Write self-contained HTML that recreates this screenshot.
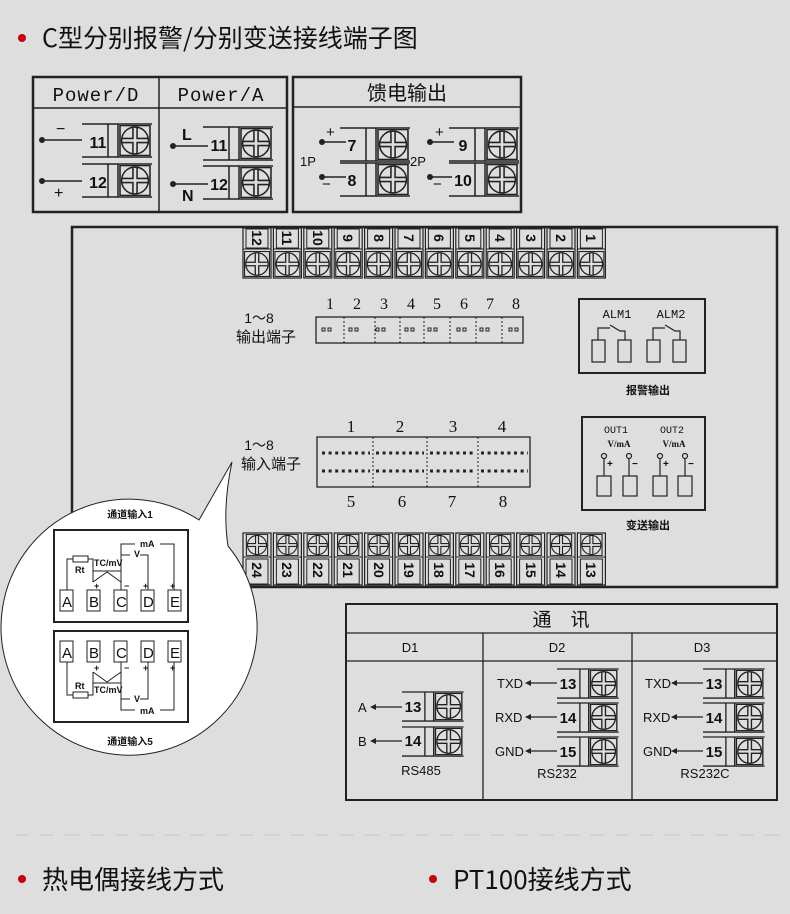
<!DOCTYPE html>
<html><head><meta charset="utf-8"><style>
body{margin:0;background:#dedede;}
svg{display:block}
text{font-family:"Liberation Sans","Noto Sans CJK SC",sans-serif;fill:#111}
.s{font-family:"Liberation Serif","Noto Serif CJK SC",serif}
.m{font-family:"Liberation Mono","Noto Sans CJK SC",monospace}
.h{font-family:"Noto Sans CJK SC",sans-serif}
</style></head><body>
<svg width="790" height="914" viewBox="0 0 790 914" xmlns="http://www.w3.org/2000/svg">
<defs>
<symbol id="sc" viewBox="0 0 30 30">
<rect x="0.5" y="0.5" width="29" height="29" fill="none" stroke="#222" stroke-width="1.5"/>
<circle cx="15" cy="15" r="13" fill="none" stroke="#222" stroke-width="1.5"/>
<path d="M13 2V13H2M17 2V13H28M13 28V17H2M17 28V17H28" fill="none" stroke="#222" stroke-width="1.5"/>
</symbol>
<g id="tb"><path d="M0 0H70M0 33H70M26 0V33M36 0V33" stroke="#222" stroke-width="1.5" fill="none"/><use href="#sc" x="37" y="1" width="32" height="31"/></g>
<g id="tt"><rect x="0" y="0" width="28" height="50" fill="none" stroke="#222" stroke-width="1.2"/><line x1="0" y1="21" x2="28" y2="21" stroke="#222"/><rect x="3" y="1" width="22" height="19" fill="none" stroke="#222"/><use href="#sc" x="1" y="23" width="26" height="26"/></g>
<g id="bt"><rect x="0" y="0" width="28" height="52" fill="none" stroke="#222" stroke-width="1.2"/><line x1="0" y1="24" x2="28" y2="24" stroke="#222"/><rect x="3" y="26" width="22" height="25" fill="none" stroke="#222"/><use href="#sc" x="1" y="1" width="26" height="22"/></g>
</defs>

<circle cx="22" cy="38" r="4" fill="#c8000a"/>
<text x="42" y="47" font-size="25" class="h">C型分别报警/分别变送接线端子图</text>

<!-- Power box -->
<rect x="33" y="77" width="254" height="135" fill="none" stroke="#222" stroke-width="2.5"/>
<line x1="33" y1="108" x2="287" y2="108" stroke="#222" stroke-width="1.5"/>
<line x1="159" y1="77" x2="159" y2="212" stroke="#222" stroke-width="1.5"/>
<text x="96" y="101" font-size="19" text-anchor="middle" class="m" letter-spacing="1">Power/D</text>
<text x="221" y="101" font-size="19" text-anchor="middle" class="m" letter-spacing="1">Power/A</text>
<use href="#tb" x="82" y="124"/><use href="#tb" x="82" y="164"/>
<text x="98" y="148" font-size="16" font-weight="bold" text-anchor="middle">11</text>
<text x="98" y="188" font-size="16" font-weight="bold" text-anchor="middle">12</text>
<circle cx="42" cy="140" r="3" fill="#222"/><line x1="42" y1="140" x2="82" y2="140" stroke="#222" stroke-width="1.5"/>
<circle cx="42" cy="181" r="3" fill="#222"/><line x1="42" y1="181" x2="82" y2="181" stroke="#222" stroke-width="1.5"/>
<text x="56" y="134" font-size="16">−</text><text x="54" y="198" font-size="16">+</text>
<use href="#tb" x="203" y="127"/><use href="#tb" x="203" y="166"/>
<text x="219" y="151" font-size="16" font-weight="bold" text-anchor="middle">11</text>
<text x="219" y="190" font-size="16" font-weight="bold" text-anchor="middle">12</text>
<circle cx="173" cy="146" r="3" fill="#222"/><line x1="173" y1="146" x2="208" y2="146" stroke="#222" stroke-width="1.5"/>
<circle cx="173" cy="184" r="3" fill="#222"/><line x1="173" y1="184" x2="208" y2="184" stroke="#222" stroke-width="1.5"/>
<text x="182" y="140" font-size="16" font-weight="bold">L</text><text x="182" y="201" font-size="16" font-weight="bold">N</text>

<!-- Feed -->
<rect x="293" y="77" width="228" height="135" fill="none" stroke="#222" stroke-width="2.5"/>
<line x1="293" y1="107" x2="521" y2="107" stroke="#222" stroke-width="1.5"/>
<text x="407" y="100" font-size="20" text-anchor="middle" class="h">馈电输出</text>
<use href="#tb" x="340" y="128"/><use href="#tb" x="340" y="163"/>
<use href="#tb" x="449" y="128"/><use href="#tb" x="449" y="163"/>
<text x="352" y="151" font-size="16" font-weight="bold" text-anchor="middle">7</text>
<text x="352" y="186" font-size="16" font-weight="bold" text-anchor="middle">8</text>
<text x="463" y="151" font-size="16" font-weight="bold" text-anchor="middle">9</text>
<text x="463" y="186" font-size="16" font-weight="bold" text-anchor="middle">10</text>
<circle cx="322" cy="142" r="3" fill="#222"/><line x1="322" y1="142" x2="346" y2="142" stroke="#222" stroke-width="1.5"/>
<circle cx="322" cy="177" r="3" fill="#222"/><line x1="322" y1="177" x2="346" y2="177" stroke="#222" stroke-width="1.5"/>
<circle cx="430" cy="142" r="3" fill="#222"/><line x1="430" y1="142" x2="454" y2="142" stroke="#222" stroke-width="1.5"/>
<circle cx="430" cy="177" r="3" fill="#222"/><line x1="430" y1="177" x2="452" y2="177" stroke="#222" stroke-width="1.5"/>
<text x="326" y="137" font-size="15">+</text><text x="322" y="189" font-size="15">−</text>
<text x="435" y="137" font-size="15">+</text><text x="433" y="189" font-size="15">−</text>
<text x="300" y="166" font-size="13">1P</text><text x="410" y="166" font-size="13">2P</text>

<!-- Main box -->
<rect x="72" y="227" width="705" height="360" fill="none" stroke="#222" stroke-width="2.5"/>
<g font-size="14" font-weight="bold">
<use href="#tt" x="243" y="228"/><use href="#tt" x="273.4" y="228"/><use href="#tt" x="303.8" y="228"/><use href="#tt" x="334.2" y="228"/><use href="#tt" x="364.6" y="228"/><use href="#tt" x="395" y="228"/><use href="#tt" x="425.4" y="228"/><use href="#tt" x="455.8" y="228"/><use href="#tt" x="486.2" y="228"/><use href="#tt" x="516.6" y="228"/><use href="#tt" x="547" y="228"/><use href="#tt" x="577.4" y="228"/>
<text transform="translate(252,238) rotate(90)" text-anchor="middle">12</text>
<text transform="translate(282,238) rotate(90)" text-anchor="middle">11</text>
<text transform="translate(313,238) rotate(90)" text-anchor="middle">10</text>
<text transform="translate(343,238) rotate(90)" text-anchor="middle">9</text>
<text transform="translate(374,238) rotate(90)" text-anchor="middle">8</text>
<text transform="translate(404,238) rotate(90)" text-anchor="middle">7</text>
<text transform="translate(434,238) rotate(90)" text-anchor="middle">6</text>
<text transform="translate(465,238) rotate(90)" text-anchor="middle">5</text>
<text transform="translate(495,238) rotate(90)" text-anchor="middle">4</text>
<text transform="translate(526,238) rotate(90)" text-anchor="middle">3</text>
<text transform="translate(556,238) rotate(90)" text-anchor="middle">2</text>
<text transform="translate(586,238) rotate(90)" text-anchor="middle">1</text>
<use href="#bt" x="243" y="533"/><use href="#bt" x="273.4" y="533"/><use href="#bt" x="303.8" y="533"/><use href="#bt" x="334.2" y="533"/><use href="#bt" x="364.6" y="533"/><use href="#bt" x="395" y="533"/><use href="#bt" x="425.4" y="533"/><use href="#bt" x="455.8" y="533"/><use href="#bt" x="486.2" y="533"/><use href="#bt" x="516.6" y="533"/><use href="#bt" x="547" y="533"/><use href="#bt" x="577.4" y="533"/>
<text transform="translate(252,570) rotate(90)" text-anchor="middle">24</text>
<text transform="translate(282,570) rotate(90)" text-anchor="middle">23</text>
<text transform="translate(313,570) rotate(90)" text-anchor="middle">22</text>
<text transform="translate(343,570) rotate(90)" text-anchor="middle">21</text>
<text transform="translate(374,570) rotate(90)" text-anchor="middle">20</text>
<text transform="translate(404,570) rotate(90)" text-anchor="middle">19</text>
<text transform="translate(434,570) rotate(90)" text-anchor="middle">18</text>
<text transform="translate(465,570) rotate(90)" text-anchor="middle">17</text>
<text transform="translate(495,570) rotate(90)" text-anchor="middle">16</text>
<text transform="translate(526,570) rotate(90)" text-anchor="middle">15</text>
<text transform="translate(556,570) rotate(90)" text-anchor="middle">14</text>
<text transform="translate(586,570) rotate(90)" text-anchor="middle">13</text>
</g>

<!-- output terminals -->
<text x="259" y="323" font-size="14" text-anchor="middle">1～8</text>
<text x="266" y="342" font-size="15" text-anchor="middle">输出端子</text>
<g class="s" font-size="16" text-anchor="middle">
<text x="330" y="309" class="s">1</text><text x="357" y="309" class="s">2</text><text x="384" y="309" class="s">3</text><text x="411" y="309" class="s">4</text><text x="437" y="309" class="s">5</text><text x="464" y="309" class="s">6</text><text x="490" y="309" class="s">7</text><text x="516" y="309" class="s">8</text>
</g>
<rect x="316" y="317" width="207" height="26" fill="none" stroke="#222" stroke-width="1.3"/>
<path d="M344 317V343M375 317V343M400 317V343M424 317V343M450 317V343M476 317V343M502 317V343" stroke="#222" stroke-dasharray="2 2"/>
<g fill="none" stroke="#222" stroke-width="1">
<path d="M322 328h3v3h-3zM328 328h3v3h-3zM349 328h3v3h-3zM355 328h3v3h-3zM376 328h3v3h-3zM382 328h3v3h-3zM405 328h3v3h-3zM411 328h3v3h-3zM428 328h3v3h-3zM434 328h3v3h-3zM457 328h3v3h-3zM463 328h3v3h-3zM480 328h3v3h-3zM486 328h3v3h-3zM509 328h3v3h-3zM515 328h3v3h-3z"/>
</g>

<!-- input terminals -->
<text x="259" y="450" font-size="14" text-anchor="middle">1～8</text>
<text x="271" y="469" font-size="15" text-anchor="middle">输入端子</text>
<g font-size="17" text-anchor="middle">
<text x="351" y="432" class="s">1</text><text x="400" y="432" class="s">2</text><text x="453" y="432" class="s">3</text><text x="502" y="432" class="s">4</text>
<text x="351" y="507" class="s">5</text><text x="402" y="507" class="s">6</text><text x="452" y="507" class="s">7</text><text x="503" y="507" class="s">8</text>
</g>
<rect x="317" y="437" width="213" height="50" fill="none" stroke="#222" stroke-width="1.3"/>
<path d="M373 437V487M427 437V487M478 437V487" stroke="#222" stroke-dasharray="2 2"/>
<g stroke="#222" stroke-width="3" stroke-dasharray="3 3.6" fill="none">
<path d="M322 453H370M376 453H424M430 453H475M481 453H528M322 471H370M376 471H424M430 471H475M481 471H528"/>
</g>

<!-- ALM -->
<rect x="579" y="299" width="126" height="74" fill="none" stroke="#222" stroke-width="2"/>
<text x="617" y="318" font-size="12" class="m" text-anchor="middle">ALM1</text>
<text x="671" y="318" font-size="12" class="m" text-anchor="middle">ALM2</text>
<g fill="none" stroke="#222" stroke-width="1.2">
<rect x="592" y="340" width="13" height="22"/><rect x="618" y="340" width="13" height="22"/>
<rect x="647" y="340" width="13" height="22"/><rect x="673" y="340" width="13" height="22"/>
<path d="M598 340V328H610M610 325L620 331H625V340M653 340V328H665M665 325L675 331H680V340"/>
</g>
<text x="648" y="394" font-size="11" font-weight="bold" text-anchor="middle">报警输出</text>

<!-- OUT -->
<rect x="582" y="417" width="123" height="93" fill="none" stroke="#222" stroke-width="2"/>
<text x="616" y="433" font-size="10" class="m" text-anchor="middle">OUT1</text>
<text x="672" y="433" font-size="10" class="m" text-anchor="middle">OUT2</text>
<text x="619" y="447" font-size="9" font-weight="bold" class="s" text-anchor="middle">V/mA</text>
<text x="674" y="447" font-size="9" font-weight="bold" class="s" text-anchor="middle">V/mA</text>
<g fill="none" stroke="#222" stroke-width="1.2">
<circle cx="604" cy="456" r="2.5"/><circle cx="629" cy="456" r="2.5"/><circle cx="660" cy="456" r="2.5"/><circle cx="685" cy="456" r="2.5"/>
<path d="M604 459V476M629 459V476M660 459V476M685 459V476"/>
<rect x="597" y="476" width="14" height="20"/><rect x="623" y="476" width="14" height="20"/><rect x="653" y="476" width="14" height="20"/><rect x="678" y="476" width="14" height="20"/>
</g>
<g font-size="10" font-weight="bold"><text x="607" y="467">+</text><text x="632" y="467">−</text><text x="663" y="467">+</text><text x="688" y="467">−</text></g>
<text x="648" y="529" font-size="11" font-weight="bold" text-anchor="middle">变送输出</text>

<!-- bubble -->
<path d="M199 520 L232 462 C226 490 224 520 228 546 A128 128 0 1 1 199 520 Z" fill="#fff" stroke="#222" stroke-width="1"/>
<text x="130" y="518" font-size="10" font-weight="bold" text-anchor="middle">通道输入1</text>
<text x="130" y="745" font-size="10" font-weight="bold" text-anchor="middle">通道输入5</text>
<rect x="54" y="530" width="134" height="92" fill="none" stroke="#222" stroke-width="2"/>
<rect x="54" y="631" width="134" height="91" fill="none" stroke="#222" stroke-width="2"/>
<g fill="none" stroke="#222" stroke-width="1">
<rect x="60" y="590" width="13" height="21"/><rect x="87" y="590" width="13" height="21"/><rect x="114" y="590" width="13" height="21"/><rect x="141" y="590" width="13" height="21"/><rect x="168" y="590" width="13" height="21"/>
<rect x="60" y="641" width="13" height="21"/><rect x="87" y="641" width="13" height="21"/><rect x="114" y="641" width="13" height="21"/><rect x="141" y="641" width="13" height="21"/><rect x="168" y="641" width="13" height="21"/>
<path d="M67 590V559H73M88 559H93V582M93 582L107 572L121 582M93 571H121M121 590V544H135M160 544H174V590M121 555H130M140 555H148V590"/>
<rect x="73" y="556" width="15" height="6"/>
<path d="M67 662V695H73M88 695H93V672M93 672L107 682L121 672M93 683H121M121 662V710H135M160 710H174V662M121 699H130M140 699H148V662"/>
<rect x="73" y="692" width="15" height="6"/>
</g>
<g font-size="15"><text x="62" y="607">A</text><text x="89" y="607">B</text><text x="116" y="607">C</text><text x="143" y="607">D</text><text x="170" y="607">E</text>
<text x="62" y="658">A</text><text x="89" y="658">B</text><text x="116" y="658">C</text><text x="143" y="658">D</text><text x="170" y="658">E</text></g>
<g font-size="9" class="s" font-weight="bold">
<text x="75" y="573">Rt</text><text x="94" y="566">TC/mV</text><text x="134" y="557">V</text><text x="140" y="547">mA</text>
<text x="94" y="589">+</text><text x="124" y="589">−</text><text x="143" y="589">+</text><text x="170" y="589">+</text>
<text x="75" y="689">Rt</text><text x="94" y="693">TC/mV</text><text x="134" y="702">V</text><text x="140" y="714">mA</text>
<text x="94" y="671">+</text><text x="124" y="671">−</text><text x="143" y="671">+</text><text x="170" y="671">+</text>
</g>

<!-- comm -->
<rect x="346" y="604" width="431" height="196" fill="none" stroke="#222" stroke-width="2"/>
<path d="M346 633H777M346 661H777M483 633V800M632 633V800" stroke="#222" stroke-width="1.3"/>
<text x="561" y="626" font-size="19" text-anchor="middle" class="h">通　讯</text>
<text x="410" y="652" font-size="13" text-anchor="middle">D1</text>
<text x="557" y="652" font-size="13" text-anchor="middle">D2</text>
<text x="702" y="652" font-size="13" text-anchor="middle">D3</text>
<g transform="translate(402,692) scale(0.88)"><use href="#tb" x="0" y="0"/></g>
<g transform="translate(402,727) scale(0.88)"><use href="#tb" x="0" y="0"/></g>
<g transform="translate(557,669) scale(0.88)"><use href="#tb" x="0" y="0"/></g>
<g transform="translate(557,703) scale(0.88)"><use href="#tb" x="0" y="0"/></g>
<g transform="translate(557,737) scale(0.88)"><use href="#tb" x="0" y="0"/></g>
<g transform="translate(703,669) scale(0.88)"><use href="#tb" x="0" y="0"/></g>
<g transform="translate(703,703) scale(0.88)"><use href="#tb" x="0" y="0"/></g>
<g transform="translate(703,737) scale(0.88)"><use href="#tb" x="0" y="0"/></g>
<g font-size="15" font-weight="bold" text-anchor="middle">
<text x="413" y="712">13</text><text x="413" y="746">14</text>
<text x="568" y="689">13</text><text x="568" y="723">14</text><text x="568" y="757">15</text>
<text x="714" y="689">13</text><text x="714" y="723">14</text><text x="714" y="757">15</text>
</g>
<g stroke="#222" stroke-width="1.2">
<path d="M375 707H402M375 741H402M530 683H557M530 717H557M530 751H557M676 683H703M676 717H703M676 751H703"/>
</g>
<g fill="#222"><path d="M370 707l6-3v6zM370 741l6-3v6zM525 683l6-3v6zM525 717l6-3v6zM525 751l6-3v6zM671 683l6-3v6zM671 717l6-3v6zM671 751l6-3v6z"/></g>
<g font-size="13"><text x="358" y="712">A</text><text x="358" y="746">B</text>
<text x="497" y="688">TXD</text><text x="495" y="722">RXD</text><text x="495" y="756">GND</text>
<text x="645" y="688">TXD</text><text x="643" y="722">RXD</text><text x="643" y="756">GND</text>
<text x="421" y="775" text-anchor="middle">RS485</text><text x="557" y="778" text-anchor="middle">RS232</text><text x="705" y="778" text-anchor="middle">RS232C</text></g>

<line x1="15" y1="835" x2="780" y2="835" stroke="#c8c8c8" stroke-width="1" stroke-dasharray="14 11"/>
<circle cx="22" cy="879" r="4" fill="#c8000a"/>
<text x="42" y="889" font-size="26" class="h">热电偶接线方式</text>
<circle cx="433" cy="879" r="4" fill="#c8000a"/>
<text x="453" y="889" font-size="26" class="h">PT100接线方式</text>
</svg>
</body></html>
